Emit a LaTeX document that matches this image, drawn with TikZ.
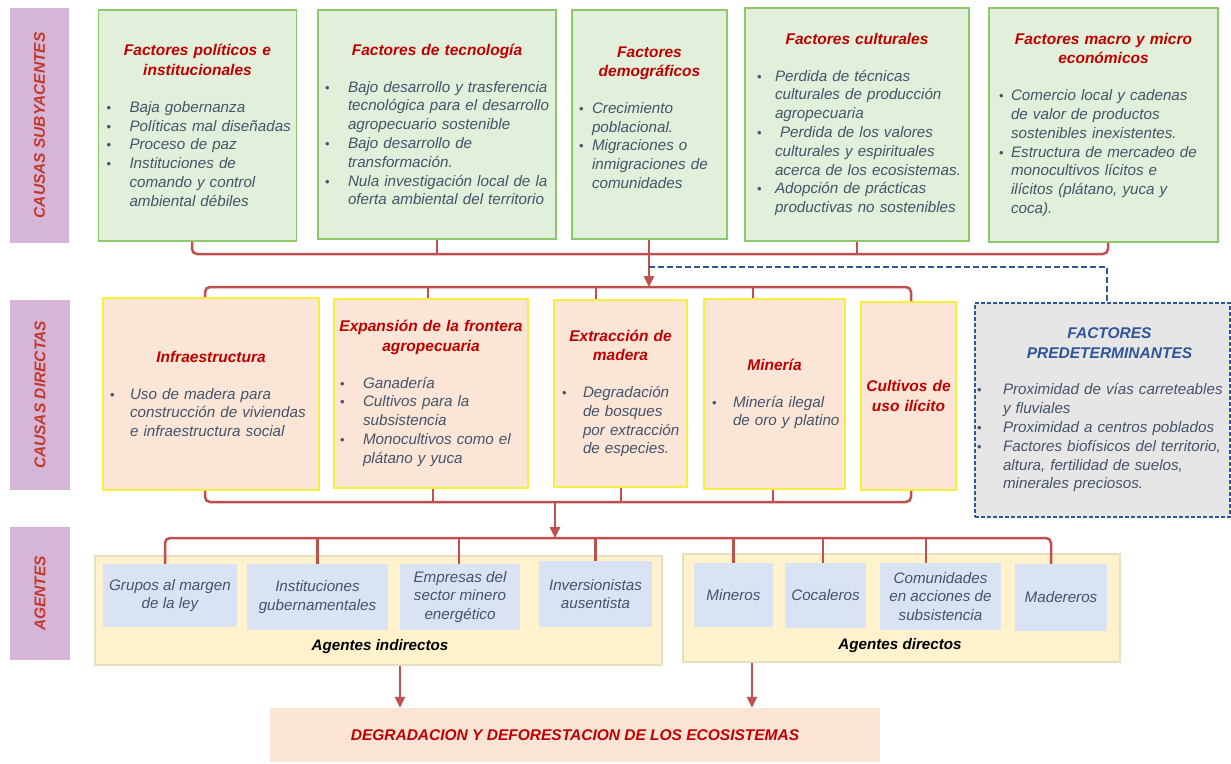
\documentclass[tikz,border=0pt]{standalone}
\usepackage{fontspec}
\setmainfont{Liberation Sans}
\usetikzlibrary{arrows.meta}
\definecolor{gfill}{HTML}{E2EFDA}
\definecolor{gborder}{HTML}{8DC86B}
\definecolor{yfill}{HTML}{FBE5D6}
\definecolor{yborder}{HTML}{F7EF3C}
\definecolor{pfill}{HTML}{E7E6E6}
\definecolor{pblue}{HTML}{2F5597}
\definecolor{afill}{HTML}{FFF2CC}
\definecolor{aborder}{HTML}{E6DFC6}
\definecolor{sfill}{HTML}{DAE3F3}
\definecolor{finfill}{HTML}{FBE4D5}
\definecolor{sidefill}{HTML}{D6B6D8}
\definecolor{sidetxt}{HTML}{C0392B}
\definecolor{bodyc}{HTML}{44546A}
\definecolor{ttlc}{HTML}{C00000}
\definecolor{lnred}{HTML}{C0504D}
\newlength\hw
\newcommand\bodyf{\fontsize{15.2}{18.8}\selectfont\itshape}
\newcommand\ttlf{\fontsize{15.5}{19.5}\selectfont\bfseries\itshape\color{ttlc}}
\newcommand\bul{{\upshape\fontsize{13}{13}\selectfont\textbullet}}
\newcommand\bi[1]{\par{\let\\\newline\rightskip=-30pt plus 1fil\hangindent=\hw\hangafter=1\noindent\makebox[\hw][l]{\bul}#1\par}}
\newcommand\ttl[1]{{\ttlf\noindent\makebox[\hsize][c]{#1}\par}}
\newcommand\ttlb[1]{{\ttlf\color{pblue}\noindent\makebox[\hsize][c]{#1}\par}}
\begin{document}
\begin{tikzpicture}[x=1pt,y=-1pt,
  conn/.style={draw=lnred, line width=2.5pt},
  arr/.style={draw=lnred, line width=2.5pt, -{Triangle[width=10pt,length=11pt]}},
  dashln/.style={draw=pblue, line width=1.8pt, dash pattern=on 6pt off 3pt},
  gbox/.style={draw=gborder, fill=gfill, line width=1.8pt, inner ysep=0pt, align=left, font=\bodyf, text=bodyc},
  ybox/.style={draw=yborder, fill=yfill, line width=1.8pt, inner ysep=0pt, align=left, font=\bodyf, text=bodyc},
  pbox/.style={draw=pblue, fill=pfill, line width=1.4pt, dash pattern=on 4pt off 2pt, inner ysep=0pt, align=left, font=\bodyf, text=bodyc},
  side/.style={fill=sidefill, inner sep=0pt, rotate=90, font=\fontsize{15.5}{18}\selectfont\bfseries\itshape, text=sidetxt},
  cont/.style={draw=aborder, fill=afill, line width=1.2pt, inner sep=0pt},
  abox/.style={fill=sfill, inner sep=0pt, align=center, font=\bodyf, text=bodyc},
  alabel/.style={font=\fontsize{15.2}{18}\selectfont\bfseries\itshape, text=black, inner sep=0pt},
  finbox/.style={fill=finfill, inner sep=0pt, font=\fontsize{15.5}{18}\selectfont\bfseries\itshape, text=ttlc}
]
\useasboundingbox (0,0) rectangle (1231,763);

% side labels
\node[side, minimum width=235pt, minimum height=59pt] (s1) at (39.5,125.5) {CAUSAS SUBYACENTES};
\node[side, minimum width=190pt, minimum height=60pt] (s2) at (40,395) {CAUSAS DIRECTAS};
\node[side, minimum width=133pt, minimum height=60pt] (s3) at (40,593.5) {AGENTES};

% top row
\node[gbox, minimum width=198pt, minimum height=231pt, text width=182pt, inner xsep=8pt] (b1) at (197.5,125.5) {\hw=23pt
\ttl{Factores políticos e}\ttl{institucionales}\vspace{18pt}
\bi{Baja gobernanza}\bi{Políticas mal diseñadas}\bi{Proceso de paz}\bi{Instituciones de\\comando y control\\ambiental débiles}};

\node[gbox, minimum width=238pt, minimum height=229pt, text width=224pt, inner xsep=7pt] (b2) at (437,124.5) {\hw=23pt
\ttl{Factores de tecnología}\vspace{18pt}
\bi{Bajo desarrollo y trasferencia\\tecnológica para el desarrollo\\agropecuario sostenible}\bi{Bajo desarrollo de\\transformación.}\bi{Nula investigación local de la\\oferta ambiental del territorio}};

\node[gbox, minimum width=155pt, minimum height=229pt, text width=141pt, inner xsep=7pt] (b3) at (649.5,124.5) {\hw=13pt
\ttl{Factores}\ttl{demográficos}\vspace{18pt}
\bi{Crecimiento\\poblacional.}\bi{Migraciones o\\inmigraciones de\\comunidades}\vspace*{14pt}};

\node[gbox, minimum width=224pt, minimum height=233pt, text width=200pt, inner xsep=12pt] (b4) at (857,124.5) {\hw=18pt
\ttl{Factores culturales}\vspace{18pt}
\bi{Perdida de técnicas\\culturales de producción\\agropecuaria}\bi{\ Perdida de los valores\\culturales y espirituales\\acerca de los ecosistemas.}\bi{Adopción de prácticas\\productivas no sostenibles}};

\node[gbox, minimum width=229pt, minimum height=234pt, text width=209pt, inner xsep=10pt] (b5) at (1103.5,125) {\hw=12pt
\ttl{Factores macro y micro}\ttl{económicos}\vspace{18pt}
\bi{Comercio local y cadenas\\de valor de productos\\sostenibles inexistentes.}\bi{Estructura de mercadeo de\\monocultivos lícitos e\\ilícitos (plátano, yuca y\\coca).}};

% middle row
\node[ybox, minimum width=216pt, minimum height=192pt, text width=202pt, inner xsep=7pt] (m1) at (211,394) {\hw=20pt
\ttl{Infraestructura}\vspace{18pt}
\bi{Uso de madera para\\construcción de viviendas\\e infraestructura social}};

\node[ybox, minimum width=194pt, minimum height=189pt, text width=182pt, inner xsep=6pt] (m2) at (431,393.5) {\hw=23pt
\ttl{Expansión de la frontera}\ttl{agropecuaria}\vspace{18pt}
\bi{Ganadería}\bi{Cultivos para la\\subsistencia}\bi{Monocultivos como el\\plátano y yuca}};

\node[ybox, minimum width=133pt, minimum height=187pt, text width=117pt, inner xsep=8pt] (m3) at (620.5,393.5) {\hw=21pt
\ttl{Extracción de}\ttl{madera}\vspace{18pt}
\bi{Degradación\\de bosques\\por extracción\\de especies.}};

\node[ybox, minimum width=141pt, minimum height=190pt, text width=125pt, inner xsep=8pt] (m4) at (774.5,394) {\hw=21pt
\ttl{Minería}\vspace{18pt}
\bi{Minería ilegal\\de oro y platino}};

\node[ybox, minimum width=95pt, minimum height=188pt, text width=85pt, inner xsep=5pt] (m5) at (908.5,396) {%
\ttl{Cultivos de}\ttl{uso ilícito}};

\node[pbox, minimum width=255pt, minimum height=214pt, text width=251pt, inner xsep=2pt] (fp) at (1102.5,410) {\hw=26pt
\ttlb{\hspace*{14pt}FACTORES}\ttlb{\hspace*{14pt}PREDETERMINANTES}\vspace{18pt}
\bi{Proximidad de vías carreteables\\y fluviales}\bi{Proximidad a centros poblados}\bi{Factores biofísicos del territorio,\\altura, fertilidad de suelos,\\minerales preciosos.}};

% agents containers
\node[cont, minimum width=567pt, minimum height=109pt] (gi) at (378.5,610.5) {};
\node[cont, minimum width=437pt, minimum height=108pt] (gd) at (901.5,608) {};
\node[alabel] (li) at (380,647) {Agentes indirectos};
\node[alabel] (ld) at (900,646) {Agentes directos};

\node[abox, minimum width=134pt, minimum height=63pt] (a1) at (170,595.5) {Grupos al margen\\de la ley};
\node[abox, minimum width=141pt, minimum height=66pt] (a2) at (317.5,597) {Instituciones\\gubernamentales};
\node[abox, minimum width=120pt, minimum height=66pt] (a3) at (460,597) {Empresas del\\sector minero\\energético};
\node[abox, minimum width=113pt, minimum height=66pt] (a4) at (595.5,594) {Inversionistas\\ausentista};
\node[abox, minimum width=79pt, minimum height=64pt] (a5) at (733.5,595) {Mineros};
\node[abox, minimum width=81pt, minimum height=65pt] (a6) at (825.5,595.5) {Cocaleros};
\node[abox, minimum width=121pt, minimum height=67pt] (a7) at (940.5,596.5) {Comunidades\\en acciones de\\subsistencia};
\node[abox, minimum width=92pt, minimum height=67pt] (a8) at (1061,597.5) {Madereros};

% final
\node[finbox, minimum width=610pt, minimum height=54pt] (fin) at (575,735) {DEGRADACION Y DEFORESTACION DE LOS ECOSISTEMAS};

% bus coordinates
\coordinate (tbR) at (1108,254);
\coordinate (mbR) at (911,287);
\coordinate (bbR) at (911,502);
\coordinate (bbA) at (555,502);
\coordinate (abA) at (555,538);
\coordinate (abR) at (1051,538);
\coordinate (dA) at (649,267);

% top bus
\draw[conn, rounded corners=5pt] ([xshift=-5.5pt]b1.south) |- (tbR) -- ([xshift=4.5pt]b5.south);
\draw[conn] (b2.south) -- (b2.south |- tbR);
\draw[conn] (b4.south) -- (b4.south |- tbR);
\draw[arr] ([xshift=-0.5pt]b3.south) -- ([xshift=-0.5pt]b3.south |- mbR);

% dashed link to predisposing factors
\draw[dashln] (dA) -| ([xshift=4.5pt]fp.north);

% middle top bus
\draw[conn, rounded corners=5pt] ([xshift=-6pt]m1.north) |- (mbR) -- ([xshift=2.5pt]m5.north);
\draw[conn] ([xshift=-3pt]m2.north) -- ([xshift=-3pt]m2.north |- mbR);
\draw[conn] ([xshift=-24.5pt]m3.north) -- ([xshift=-24.5pt]m3.north |- mbR);
\draw[conn] ([xshift=-21.5pt]m4.north) -- ([xshift=-21.5pt]m4.north |- mbR);

% middle bottom bus
\draw[conn, rounded corners=5pt] ([xshift=-6pt]m1.south) |- (bbR) -- ([xshift=2.5pt]m5.south);
\draw[conn] ([xshift=2pt]m2.south) -- ([xshift=2pt]m2.south |- bbR);
\draw[conn] ([xshift=0.5pt]m3.south) -- ([xshift=0.5pt]m3.south |- bbR);
\draw[conn] ([xshift=-1.5pt]m4.south) -- ([xshift=-1.5pt]m4.south |- bbR);
\draw[arr] (bbA) -- (abA);

% agents bus
\draw[conn, rounded corners=5pt] ([xshift=-5pt]a1.north) |- (abR) -- ([xshift=-10pt]a8.north);
\draw[conn] (a2.north) -- (a2.north |- abR);
\draw[conn] ([xshift=-1pt]a3.north) -- ([xshift=-1pt]a3.north |- abR);
\draw[conn] (a4.north) -- (a4.north |- abR);
\draw[conn] (a5.north) -- (a5.north |- abR);
\draw[conn] ([xshift=-2.5pt]a6.north) -- ([xshift=-2.5pt]a6.north |- abR);
\draw[conn] ([xshift=-14.5pt]a7.north) -- ([xshift=-14.5pt]a7.north |- abR);

% to final
\draw[arr] ([xshift=21.5pt]gi.south) -- ([xshift=21.5pt]gi.south |- fin.north);
\draw[arr] ([xshift=-149.5pt]gd.south) -- ([xshift=-149.5pt]gd.south |- fin.north);
\end{tikzpicture}
\end{document}
